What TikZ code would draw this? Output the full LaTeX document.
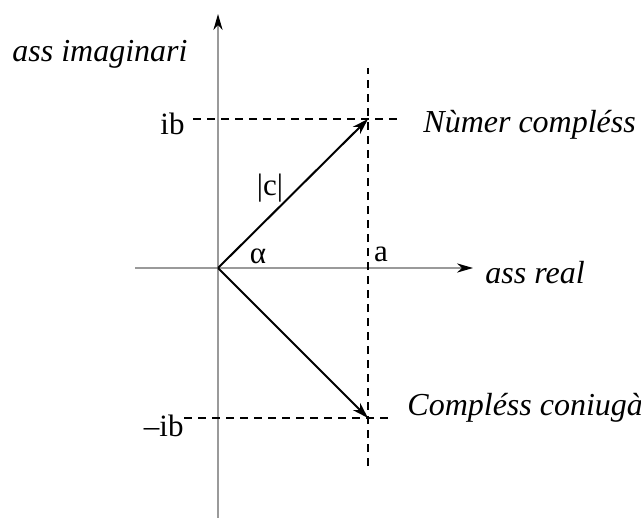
\documentclass[tikz,border=0pt]{standalone}
\usepackage{fontspec}
\setmainfont{Liberation Serif}
\usetikzlibrary{arrows.meta}
\definecolor{axisgray}{HTML}{9A9A9A}

\begin{document}
\begin{tikzpicture}[x=0.5pt,y=-0.5pt,line join=round,
  axis/.style={axisgray,line width=0.75pt,-{Stealth[black,length=8pt,width=4.6pt,inset=2.5pt]}},
  guide/.style={line width=0.75pt,dash pattern=on 4pt off 3pt},
  vec/.style={line width=1pt,-{Stealth[length=8pt,width=5pt,inset=2.5pt]}},
  lbl/.style={inner sep=0pt,anchor=base,font=\fontsize{15.5}{18}\selectfont},
  itlbl/.style={inner sep=0pt,anchor=base west,font=\fontsize{16}{19}\selectfont\itshape}]
  \useasboundingbox (0,0) rectangle (641,518);

  % Origin and the number with its conjugate.
  \coordinate (O) at (218,268);
  \coordinate (C) at (368,119);
  \coordinate (Cbar) at (368,418);

  % Ends of the axes and of the dashed guides.
  \coordinate (xlo) at (135,268);
  \coordinate (xhi) at (473,268);
  \coordinate (ylo) at (218,518);
  \coordinate (yhi) at (218,14);
  \coordinate (alo) at (368,466);
  \coordinate (ahi) at (368,68);
  \coordinate (blo) at (193,119);
  \coordinate (bhi) at (397,119);
  \coordinate (mblo) at (184,418);
  \coordinate (mbhi) at (391,418);

  % Axes.
  \draw[axis] (xlo) -- (xhi);
  \draw[axis] (ylo) -- (yhi);

  % Projections on the axes.
  \draw[guide] (alo) -- (ahi);
  \draw[guide] (blo) -- (bhi);
  \draw[guide] (mblo) -- (mbhi);

  % The two vectors.
  \draw[vec] (O) -- (C);
  \draw[vec] (O) -- (Cbar);

  % Labels.
  \node[lbl,anchor=base east] (ib) at (185,135) {ib};
  \node[lbl,anchor=base east] (mib) at (184,436) {–ib};
  \node[lbl] (modc) at (270,195) {|c|};
  \node[lbl] (alpha) at (258,263) {α};
  \node[lbl] (a) at (381,261) {a};
  \node[itlbl] (realax) at (485,283) {ass real};
  \node[itlbl] (imagax) at (12,62) {ass imaginari};
  \node[itlbl] (numc) at (423,133) {Nùmer compléss};
  \node[itlbl] (conjc) at (407,415) {Compléss coniugàt};
\end{tikzpicture}
\end{document}
